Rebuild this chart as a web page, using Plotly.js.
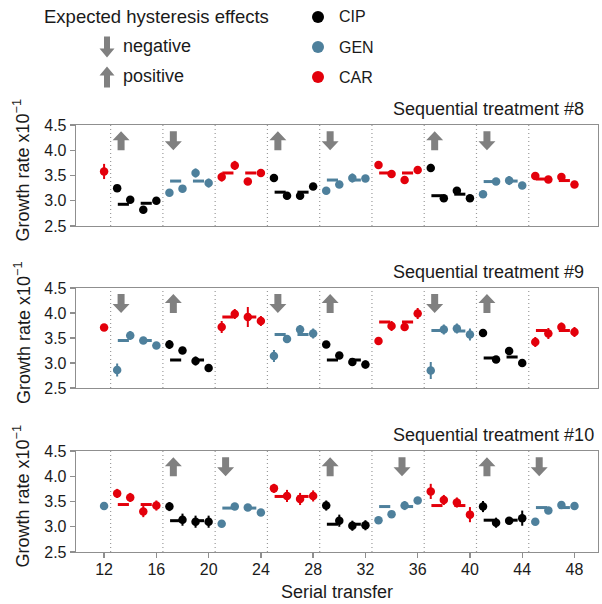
<!DOCTYPE html>
<html><head><meta charset="utf-8">
<script src="https://cdn.plot.ly/plotly-3.0.1.min.js"></script>
<style>html,body{margin:0;padding:0;background:#fff}</style>
</head><body><div id="chart" style="width:602px;height:604px"></div>
<script>
// ---------------- data ----------------
const transfers = [12,13,14,15,16,17,18,19,20,21,22,23,24,25,26,27,28,29,30,31,32,33,34,35,36,37,38,39,40,41,42,43,44,45,46,47,48];
const blockStarts = [13,17,21,25,29,33,37,41,45];
const panelTitles = ['Sequential treatment #8','Sequential treatment #9','Sequential treatment #10'];
const drugNames = ['CIP','GEN','CAR'];
// drug for transfer 12, then for each 4-transfer block
const drugs8  = ['CAR','CIP','GEN','CAR','CIP','GEN','CAR','CIP','GEN','CAR'];
const drugs9  = ['CAR','GEN','CIP','CAR','GEN','CIP','CAR','GEN','CIP','CAR'];
const drugs10 = ['GEN','CAR','CIP','GEN','CAR','CIP','GEN','CAR','CIP','GEN'];

const growth8 = [3.58, 3.25,3.02,2.82,3.00, 3.16,3.24,3.55,3.35, 3.47,3.70,3.38,3.55, 3.45,3.10,3.10,3.28, 3.20,3.32,3.45,3.44, 3.71,3.53,3.41,3.61, 3.65,3.05,3.20,3.05, 3.13,3.38,3.40,3.30, 3.49,3.42,3.47,3.32];
const err8    = [0.15, 0.03,0.03,0.04,0.03, 0.03,0.03,0.09,0.09, 0.09,0.09,0.04,0.03, 0.03,0.03,0.04,0.03, 0.03,0.03,0.09,0.05, 0.03,0.03,0.05,0.03, 0.08,0.03,0.04,0.03, 0.03,0.04,0.09,0.04, 0.03,0.03,0.07,0.03];
const growth9 = [3.71, 2.86,3.55,3.45,3.35, 3.37,3.25,3.04,2.90, 3.72,3.98,3.92,3.84, 3.14,3.48,3.67,3.59, 3.37,3.15,3.02,2.97, 3.44,3.74,3.72,3.99, 2.85,3.67,3.69,3.57, 3.60,3.07,3.24,3.00, 3.42,3.59,3.72,3.62];
const err9    = [0.03, 0.13,0.09,0.04,0.05, 0.09,0.06,0.09,0.08, 0.12,0.10,0.20,0.10, 0.12,0.08,0.09,0.10, 0.03,0.06,0.08,0.08, 0.03,0.10,0.05,0.11, 0.17,0.10,0.10,0.12, 0.07,0.03,0.07,0.04, 0.10,0.11,0.09,0.10];
const growth10 = [3.41, 3.66,3.58,3.30,3.42, 3.40,3.14,3.10,3.10, 3.06,3.40,3.38,3.28, 3.76,3.61,3.55,3.61, 3.42,3.12,3.02,3.03, 3.13,3.25,3.42,3.52, 3.70,3.53,3.48,3.24, 3.40,3.08,3.12,3.17, 3.10,3.32,3.43,3.41];
const err10    = [0.03, 0.09,0.09,0.11,0.10, 0.09,0.12,0.12,0.12, 0.03,0.03,0.03,0.03, 0.09,0.12,0.12,0.11, 0.10,0.12,0.10,0.10, 0.03,0.03,0.09,0.03, 0.15,0.10,0.10,0.15, 0.11,0.10,0.05,0.15, 0.03,0.03,0.04,0.03];

// expected levels (two dashes per block)
const dashA8 = [2.93,3.39,3.55,3.17,3.41,3.55,3.10,3.38,3.43];
const dashB8 = [2.95,3.39,3.55,3.17,3.41,3.55,3.13,3.39,3.40];
const dashA9 = [3.45,3.06,3.92,3.57,3.06,3.82,3.65,3.10,3.65];
const dashB9 = [3.45,3.06,3.92,3.57,3.06,3.82,3.64,3.12,3.65];
const dashA10 = [3.44,3.12,3.37,3.60,3.05,3.40,3.42,3.13,3.38];
const dashB10 = [3.44,3.12,3.37,3.60,3.05,3.40,3.42,3.13,3.38];

const arrowX8 = [13.3,17.3,25.3,29.3,37.3,41.3];
const arrowDir8 = ['up','down','up','down','up','down'];
const arrowX9 = [13.3,17.3,25.3,29.3,37.3,41.3];
const arrowDir9 = ['down','up','down','up','down','up'];
const arrowX10 = [17.3,21.3,29.3,34.8,41.3,45.3];
const arrowDir10 = ['up','down','up','down','up','down'];

const xTicks = [12,16,20,24,28,32,36,40,44,48];
const yTicks = [2.5,3.0,3.5,4.0,4.5];

// ---------------- styling ----------------
const W = 602, H = 604, ML = 76, MR = 4;
const colors = {CIP:'#000000', GEN:'#4e809c', CAR:'#e3000b'};
const FONT = 'Arial, "Liberation Sans", sans-serif';
const TXT = '#1a1a1a';
const BOX = '#8f8f8f';
const panelsPx = [[125,226],[288,388],[451,552]]; // top,bottom px
const px2py = p => 1 - p/H;
const px2px = p => (p - ML)/(W - ML - MR);

const panels = [
  {drugs:drugs8, g:growth8, e:err8, da:dashA8, db:dashB8, ax:arrowX8, ad:arrowDir8},
  {drugs:drugs9, g:growth9, e:err9, da:dashA9, db:dashB9, ax:arrowX9, ad:arrowDir9},
  {drugs:drugs10, g:growth10, e:err10, da:dashA10, db:dashB10, ax:arrowX10, ad:arrowDir10}
];
function drugAt(drugs, t){ return t===12 ? drugs[0] : drugs[1+Math.floor((t-13)/4)]; }

function arrowPath(dir, w, h, sw, hh){
  const s = dir==='up' ? 1 : -1;
  const t = s*h/2, b = -s*h/2, m = s*(h/2-hh);
  return `M0,${t} L${w/2},${m} L${sw/2},${m} L${sw/2},${b} L${-sw/2},${b} L${-sw/2},${m} L${-w/2},${m} Z`;
}

const traces = [], shapes = [], annotations = [];
const layout = {
  width: W, height: H, margin:{l:ML, r:MR, t:0, b:0},
  paper_bgcolor:'#fff', plot_bgcolor:'#fff', showlegend:false,
  font:{family:FONT, color:TXT}
};

panels.forEach((p, i) => {
  const n = i===0 ? '' : String(i+1);
  const xa = 'x'+n, ya = 'y'+n;
  // dashes
  drugNames.forEach(d => {
    const xs = [], ys = [];
    blockStarts.forEach((b, k) => {
      if (drugAt(p.drugs, b) !== d) return;
      xs.push(b+0.05, b+0.9, null, b+1.8, b+2.65, null);
      ys.push(p.da[k], p.da[k], null, p.db[k], p.db[k], null);
    });
    traces.push({x:xs, y:ys, xaxis:xa, yaxis:ya, mode:'lines', type:'scatter',
      line:{color:colors[d], width:3}, hoverinfo:'skip', connectgaps:false});
  });
  // points
  drugNames.forEach(d => {
    const xs = [], ys = [], es = [];
    transfers.forEach((t, j) => {
      if (drugAt(p.drugs, t) === d) { xs.push(t); ys.push(p.g[j]); es.push(p.e[j]); }
    });
    traces.push({x:xs, y:ys, xaxis:xa, yaxis:ya, mode:'markers', type:'scatter', name:d,
      marker:{color:colors[d], size:8.5},
      error_y:{type:'data', array:es, visible:true, color:colors[d], thickness:2, width:0}});
  });
  const [top, bot] = panelsPx[i];
  layout['xaxis'+n] = {
    anchor: ya, domain:[0,1], range:[9.85,49.8], tickvals:xTicks,
    showline:true, mirror:true, linecolor:BOX, linewidth:1.3,
    showgrid:false, zeroline:false,
    ticks: i===2 ? 'outside' : '', ticklen:5, tickcolor:BOX, tickwidth:1.3,
    ticklabelstandoff: -3,
    showticklabels: i===2, tickfont:{size:16, color:TXT, family:FONT}
  };
  layout['yaxis'+n] = {
    anchor: xa, domain:[px2py(bot), px2py(top)], range:[2.5,4.5], tickvals:yTicks,
    tickformat:'.1f', showline:true, mirror:true, linecolor:BOX, linewidth:1.3,
    showgrid:false, zeroline:false, ticks:'outside', ticklen:5, tickcolor:BOX, tickwidth:1.3,
    tickfont:{size:16, color:TXT, family:FONT}
  };
  // separators
  blockStarts.forEach(b => {
    shapes.push({type:'line', xref:xa, yref:ya+' domain', x0:b-0.5, x1:b-0.5, y0:0, y1:1,
      line:{color:'#9a9a9a', width:1.2, dash:'1px,3px'}, layer:'below'});
  });
  // arrows
  p.ax.forEach((x, k) => {
    shapes.push({type:'path', xref:xa, yref:ya, xsizemode:'pixel', ysizemode:'pixel',
      xanchor:x, yanchor:4.19, path:arrowPath(p.ad[k], 17, 19, 7, 9),
      fillcolor:'#808080', line:{width:0}});
  });
  // panel title
  annotations.push({text:panelTitles[i], xref:'paper', yref:'paper', x:px2px(391), y:px2py(top-16),
    xanchor:'left', yanchor:'middle', showarrow:false, font:{size:18, color:TXT, family:FONT}});
  // y title
  annotations.push({text:'Growth rate x10<sup>−1</sup>', xref:'paper', yref:'paper', x:px2px(22), y:px2py((top+bot)/2 - 5),
    xanchor:'center', yanchor:'middle', textangle:-90, showarrow:false, font:{size:18, color:TXT, family:FONT}});
});

// x title
annotations.push({text:'Serial transfer', xref:'paper', yref:'paper', x:px2px(337), y:px2py(592),
  xanchor:'center', yanchor:'middle', showarrow:false, font:{size:18, color:TXT, family:FONT}});

// legend
annotations.push({text:'Expected hysteresis effects', xref:'paper', yref:'paper', x:px2px(42), y:px2py(17),
  xanchor:'left', yanchor:'middle', showarrow:false, font:{size:18.5, color:TXT, family:FONT}});
const legArrows = [['down','negative',47],['up','positive',77]];
legArrows.forEach(([dir, label, py]) => {
  shapes.push({type:'path', xref:'paper', yref:'paper', xsizemode:'pixel', ysizemode:'pixel',
    xanchor:px2px(107), yanchor:px2py(py), path:arrowPath(dir, 15, 21, 6, 9),
    fillcolor:'#808080', line:{width:0}});
  annotations.push({text:label, xref:'paper', yref:'paper', x:px2px(121), y:px2py(py-1),
    xanchor:'left', yanchor:'middle', showarrow:false, font:{size:18, color:TXT, family:FONT}});
});
drugNames.forEach((d, k) => {
  const py = 17 + 30*k;
  shapes.push({type:'circle', xref:'paper', yref:'paper', xsizemode:'pixel', ysizemode:'pixel',
    xanchor:px2px(318), yanchor:px2py(py), x0:-6, x1:6, y0:-6, y1:6,
    fillcolor:colors[d], line:{width:0}});
  annotations.push({text:d, xref:'paper', yref:'paper', x:px2px(337), y:px2py(py),
    xanchor:'left', yanchor:'middle', showarrow:false, font:{size:16, color:TXT, family:FONT}});
});

layout.shapes = shapes;
layout.annotations = annotations;
Plotly.newPlot('chart', traces, layout, {displayModeBar:false, staticPlot:true});
</script></body></html>
